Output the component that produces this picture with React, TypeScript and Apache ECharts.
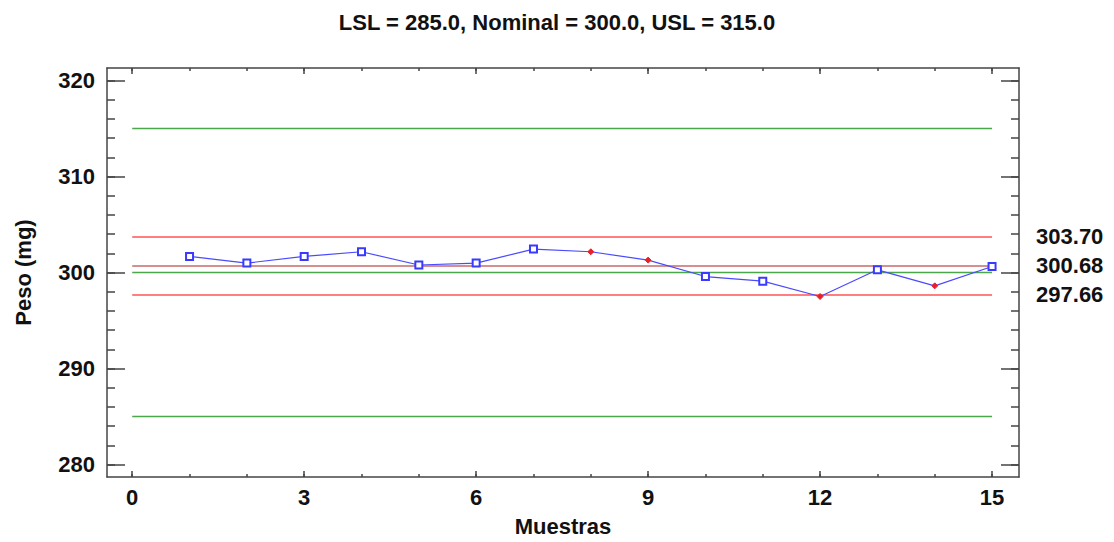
import React, { useEffect, useRef } from "react";
import * as echarts from "echarts";

const samples = [1, 2, 3, 4, 5, 6, 7, 8, 9, 10, 11, 12, 13, 14, 15];
const weights = [301.67, 300.98, 301.67, 302.16, 300.78, 300.98, 302.44, 302.16, 301.29, 299.58, 299.1, 297.5, 300.28, 298.61, 300.63];
const flagged = [false, false, false, false, false, false, false, true, true, false, false, true, false, true, false];

const specLimits = [285, 300, 315];
const controlLimits = [303.7, 300.68, 297.66];
const controlLabels = ["303.70", "300.68", "297.66"];
const lineStart = 0;
const lineEnd = 15;

const xMajor = [0, 3, 6, 9, 12, 15];
const xMinor = [0, 1, 2, 3, 4, 5, 6, 7, 8, 9, 10, 11, 12, 13, 14, 15];
const yMajor = [280, 290, 300, 310, 320];
const yMinor = [280, 282, 284, 286, 288, 290, 292, 294, 296, 298, 300, 302, 304, 306, 308, 310, 312, 314, 316, 318, 320];

const titleText = "LSL = 285.0, Nominal = 300.0, USL = 315.0";
const FONT = "'Liberation Sans', Arial, sans-serif";
const AX = "#444";
const FS = 22;

export default function App() {
  const ref = useRef<HTMLDivElement>(null);
  useEffect(() => {
    if (!ref.current) return;
    const chart = echarts.init(ref.current, undefined, { renderer: "svg" });
    const xMin = -0.44, xMax = 15.47, yMin = 278.7, yMax = 321.3;
    const mkX = (pos: string, vals: number[], len: number, labels: boolean, line: boolean, extra: any = {}) => ({
      type: "value", position: pos, min: xMin, max: xMax,
      axisLine: { show: line, onZero: false, lineStyle: { color: AX, width: 1.5 } },
      axisTick: { show: true, inside: true, length: len, customValues: vals, lineStyle: { color: AX, width: 1.5 } },
      axisLabel: labels
        ? { show: true, customValues: vals, color: "#111", fontSize: FS, fontWeight: "bold", fontFamily: FONT, margin: 9 }
        : { show: false },
      splitLine: { show: false },
      ...extra,
    });
    const mkY = (pos: string, vals: number[], len: number, labels: boolean, line: boolean, extra: any = {}) => ({
      type: "value", position: pos, min: yMin, max: yMax,
      axisLine: { show: line, onZero: false, lineStyle: { color: AX, width: 1.5 } },
      axisTick: { show: true, inside: true, length: len, customValues: vals, lineStyle: { color: AX, width: 1.5 } },
      axisLabel: labels
        ? { show: true, customValues: vals, color: "#111", fontSize: FS, fontWeight: "bold", fontFamily: FONT, margin: 12 }
        : { show: false },
      splitLine: { show: false },
      ...extra,
    });

    const pointData = samples.map((s, i) =>
      flagged[i]
        ? { value: [s, weights[i]], symbol: "diamond", symbolSize: 6, itemStyle: { color: "#e8202a", borderColor: "#e8202a" } }
        : { value: [s, weights[i]], symbol: "emptyRect", symbolSize: 7, itemStyle: { color: "#3a3aff", borderColor: "#3a3aff" } }
    );

    const hLine = (v: number, color: string, label?: string) => ({
      type: "line",
      data: [[lineStart, v], [lineEnd, v]],
      symbol: "none",
      silent: true,
      lineStyle: { color, width: 1.5 },
      endLabel: label
        ? { show: true, formatter: label, distance: 44, color: "#111", fontSize: FS, fontWeight: "bold", fontFamily: FONT }
        : { show: false },
      z: 1,
    });

    chart.setOption({
      animation: false,
      backgroundColor: "#fff",
      title: {
        text: titleText, left: "center", top: 6,
        textStyle: { color: "#111", fontSize: FS, fontWeight: "bold", fontFamily: FONT },
      },
      grid: { left: 107, top: 68, right: 95, bottom: 65, containLabel: false },
      xAxis: [
        mkX("bottom", xMajor, 6, true, true, {
          name: "Muestras", nameLocation: "middle", nameGap: 38,
          nameTextStyle: { color: "#111", fontSize: FS, fontWeight: "bold", fontFamily: FONT },
        }),
        mkX("bottom", xMinor, 3, false, false),
        mkX("top", xMajor, 6, false, true),
        mkX("top", xMinor, 3, false, false),
      ],
      yAxis: [
        mkY("left", yMajor, 18, true, true, {
          name: "Peso (mg)", nameLocation: "middle", nameGap: 73,
          nameTextStyle: { color: "#111", fontSize: FS, fontWeight: "bold", fontFamily: FONT },
        }),
        mkY("left", yMinor, 8, false, false),
        mkY("right", yMajor, 18, false, true),
        mkY("right", yMinor, 8, false, false),
      ],
      series: [
        hLine(specLimits[2], "#4aa84a"),
        hLine(specLimits[1], "#4aa84a"),
        hLine(specLimits[0], "#4aa84a"),
        hLine(controlLimits[0], "#ff5555", controlLabels[0]),
        hLine(controlLimits[1], "#c86a6a", controlLabels[1]),
        hLine(controlLimits[2], "#ff5555", controlLabels[2]),
        {
          type: "line",
          data: pointData,
          lineStyle: { color: "#4a4aff", width: 1.2 },
          itemStyle: { color: "#3a3aff" },
          z: 5,
        },
      ],
    });
    return () => chart.dispose();
  }, []);
  return <div ref={ref} style={{ position: "absolute", left: 0, top: 0, width: 1114, height: 542 }} />;
}
